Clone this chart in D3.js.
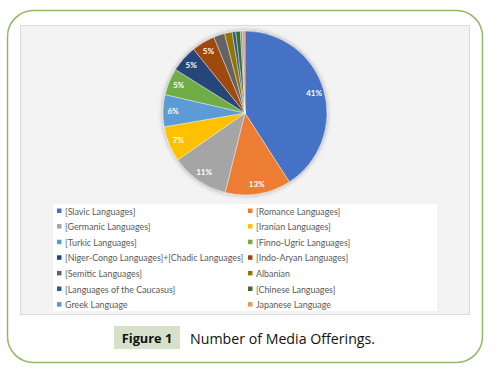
<!DOCTYPE html>
<html><head><meta charset="utf-8">
<script src="https://cdn.jsdelivr.net/npm/d3@7"></script>
<style>body{margin:0;background:#fff;}svg{display:block;}</style>
</head><body>
<script>
const categories = ["[Slavic Languages]","[Romance Languages]","[Germanic Languages]","[Iranian Languages]","[Turkic Languages]","[Finno-Ugric Languages]","[Niger-Congo Languages]+[Chadic Languages]","[Indo-Aryan Languages]","[Semitic Languages]","Albanian","[Languages of the Caucasus]","[Chinese Languages]","Greek Language","Japanese Language"];
const values = [40.9,13.0,11.4,7.0,6.3,5.3,5.3,4.6,2.2,1.5,0.7,0.9,0.4,0.5];
const colors = ["#4472C4","#ED7D31","#A5A5A5","#FFC000","#5B9BD5","#70AD47","#264478","#9E480E","#636363","#997300","#255E91","#43682B","#698ED0","#F1975A"];
const captionLabel = "Figure 1";
const captionText = "Number of Media Offerings.";

const W=499,H=376;
const svg=d3.select("body").append("svg").attr("width",W).attr("height",H);
const defs=svg.append("defs");
const f=defs.append("filter").attr("id","sh").attr("x","-20%").attr("y","-20%").attr("width","140%").attr("height","140%");
f.append("feGaussianBlur").attr("in","SourceAlpha").attr("stdDeviation",2.5);
f.append("feOffset").attr("dx",0).attr("dy",0).attr("result","b");
f.append("feComponentTransfer").append("feFuncA").attr("type","linear").attr("slope",0.35);
const m=f.append("feMerge");m.append("feMergeNode");m.append("feMergeNode").attr("in","SourceGraphic");

// outer frame
svg.append("rect").attr("x",7.5).attr("y",10.5).attr("width",475).attr("height",352).attr("rx",26).attr("ry",26)
  .attr("fill","#fff").attr("stroke","#93b966").attr("stroke-width",1.5);
// chart panel
svg.append("rect").attr("x",20.5).attr("y",25.5).attr("width",449).attr("height",289).attr("fill","#f3f3f3").attr("stroke","#dcdcdc");
// legend box
svg.append("rect").attr("x",53).attr("y",204).attr("width",384).attr("height",107).attr("fill","#fff");

const cx=245,cy=113,R=82;
const pie=d3.pie().sort(null).value(d=>d)(values);
const arc=d3.arc().innerRadius(0).outerRadius(R);
const labArc=d3.arc().innerRadius(72).outerRadius(72);
const g=svg.append("g").attr("transform",`translate(${cx},${cy})`);
const gp=g.append("g").attr("filter","url(#sh)");
gp.selectAll("path").data(pie).join("path").attr("d",arc).attr("fill",(d,i)=>colors[i]).attr("stroke","#fff").attr("stroke-width",0.4);
g.selectAll("text").data(pie.filter(d=>d.data>=4)).join("text")
  .attr("transform",d=>{const c=labArc.centroid(d);return `translate(${c[0]},${c[1]})`;})
  .attr("text-anchor","middle").attr("dominant-baseline","central")
  .attr("font-family","Lato, 'Open Sans', sans-serif").attr("font-weight","bold").attr("font-size",8)
  .attr("fill","#fff").text(d=>Math.round(d.data)+"%");

// legend
const lg=svg.append("g");
categories.forEach((c,i)=>{
  const col=i%2,row=Math.floor(i/2);
  const x=col?248:57, y=211+row*15.6;
  lg.append("rect").attr("x",x).attr("y",y-2.5).attr("width",4.5).attr("height",4.5).attr("fill",colors[i]);
  lg.append("text").attr("x",x+8).attr("y",y).attr("dominant-baseline","central")
    .attr("font-family","Lato, 'Open Sans', sans-serif").attr("font-size",8.9).attr("fill","#595959").text(c);
});

// caption
svg.append("rect").attr("x",114).attr("y",326).attr("width",66).attr("height",23).attr("fill","#d7e0c9");
svg.append("text").attr("x",147).attr("y",338).attr("text-anchor","middle").attr("dominant-baseline","central")
  .attr("font-family","'Open Sans', sans-serif").attr("font-weight","bold").attr("font-size",12.8).attr("fill","#111").text(captionLabel);
svg.append("text").attr("x",190).attr("y",338).attr("dominant-baseline","central")
  .attr("font-family","'Open Sans', sans-serif").attr("font-size",14.2).attr("fill","#111").text(captionText);
</script>
</body></html>
